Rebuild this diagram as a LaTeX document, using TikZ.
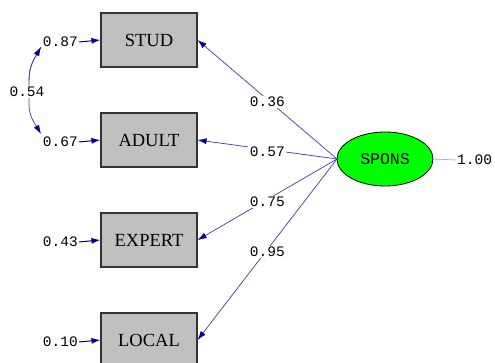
\documentclass[tikz,border=0pt]{standalone}
\usepackage{fontspec}
\setmainfont{Liberation Serif}
\newfontfamily\monof{Liberation Mono}
\usetikzlibrary{shapes.geometric,arrows.meta}
\definecolor{navy}{RGB}{0,0,140}
\definecolor{linec}{RGB}{60,60,165}
\begin{document}
\begin{tikzpicture}[x=1pt,y=-1pt,
  obs/.style={draw=black!80,line width=1.2pt,fill={rgb,255:red,192;green,192;blue,192},minimum width=96pt,minimum height=54pt,inner sep=0pt,font=\fontsize{18.5}{18.5}\selectfont},
  lat/.style={ellipse,draw=black,line width=0.8pt,fill={rgb,255:red,0;green,255;blue,0},minimum width=96pt,minimum height=54pt,inner sep=0pt,font=\monof\fontsize{16.5}{16.5}\selectfont},
  num/.style={font=\monof\fontsize{14.5}{14.5}\selectfont,inner sep=1pt},
  lbl/.style={num,fill=white,inner sep=1.5pt},
  path/.style={draw=linec,line width=0.7pt,-{Latex[length=9pt,width=6pt,color=navy]}},
  err/.style={draw=navy,line width=1pt,-{Latex[length=9pt,width=6pt,color=navy]}}]
\useasboundingbox (0,0) rectangle (495,363);
\node[obs] (stud) at (149,40) {STUD};
\node[obs] (adult) at (149,140) {ADULT};
\node[obs] (expert) at (149,240) {EXPERT};
\node[obs] (local) at (149,340) {LOCAL};
\node[lat] (spons) at (385,159) {SPONS};
\coordinate (src) at (337,159);
\draw[path] (src) -- node[lbl,pos=0.5,yshift=-2.5pt] {0.36} (stud.east);
\draw[path] (src) -- node[lbl,pos=0.5,yshift=-2.5pt] {0.57} (adult.east);
\draw[path] (src) -- node[lbl,pos=0.5,yshift=-2.5pt] {0.75} (expert.east);
\draw[path] (src) -- node[lbl,pos=0.5,yshift=-2.5pt] {0.95} (local.east);
\node[num,anchor=west] (one) at (456,160) {1.00};
\draw[draw=black!30,line width=0.8pt] (spons.east) -- (one.west);
\node[num,anchor=east] (e1) at (79,42) {0.87};
\node[num,anchor=east] (e2) at (79,142) {0.67};
\node[num,anchor=east] (e3) at (79,242) {0.43};
\node[num,anchor=east] (e4) at (79,342) {0.10};
\draw[err] (e1.east) -- (stud.west);
\draw[err] (e2.east) -- (adult.west);
\draw[err] (e3.east) -- (expert.west);
\draw[err] (e4.east) -- (local.west);
\coordinate (c1) at (41,47);
\coordinate (c2) at (41,134);
\draw[path] (c1) to[out=240,in=90] (29,80) -- (29,104) to[out=270,in=120] (c2);
\draw[path,{Latex[length=9pt,width=6pt,color=navy]}-] (c1) to[out=240,in=90] (29,80);
\node[lbl] (cov) at (27,92) {0.54};
\end{tikzpicture}
\end{document}
